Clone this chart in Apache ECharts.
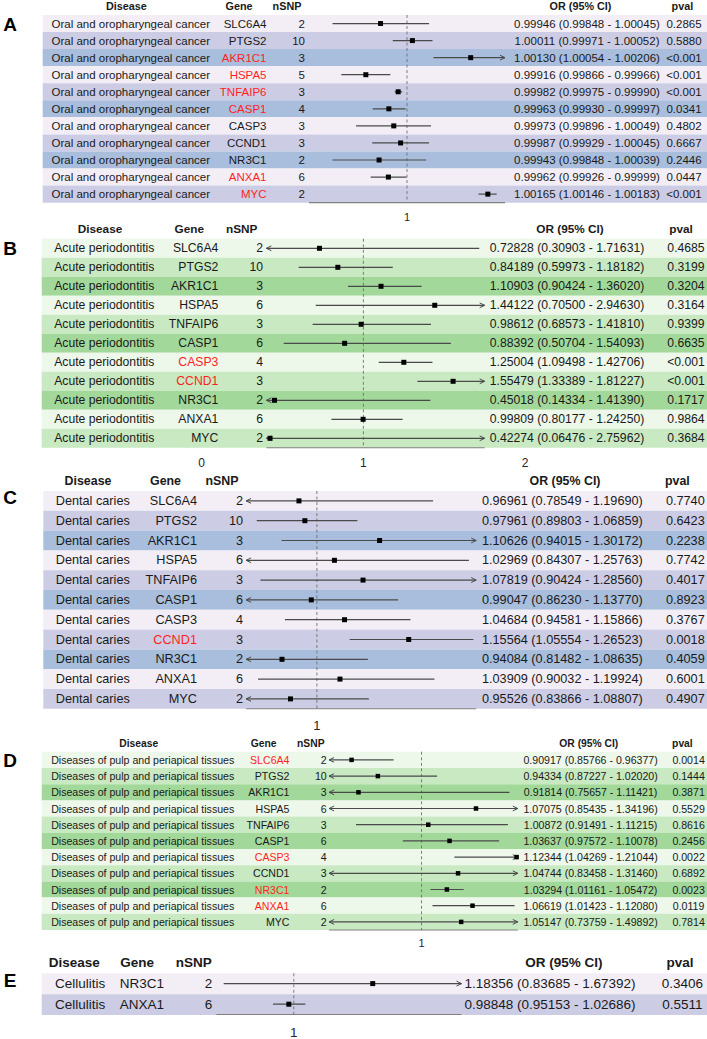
<!DOCTYPE html>
<html>
<head>
<meta charset="utf-8">
<script src="https://cdn.jsdelivr.net/npm/echarts@6/dist/echarts.min.js"></script>
<style>
html, body { margin: 0; padding: 0; background: #fff; }
#chart { width: 707px; height: 1039px; }
</style>
</head>
<body>
<div id="chart"></div>
<script>
// data
var genes = ['SLC6A4', 'PTGS2', 'AKR1C1', 'HSPA5', 'TNFAIP6', 'CASP1', 'CASP3', 'CCND1', 'NR3C1', 'ANXA1', 'MYC'];
var headers = ['Disease', 'Gene', 'nSNP', 'OR (95% CI)', 'pval'];

var diseaseA = 'Oral and oropharyngeal cancer';
var nsnpA = [2, 10, 3, 5, 3, 4, 3, 3, 2, 6, 2];
var orA = [0.99946, 1.00011, 1.00130, 0.99916, 0.99982, 0.99963, 0.99973, 0.99987, 0.99943, 0.99962, 1.00165];
var loA = [0.99848, 0.99971, 1.00054, 0.99866, 0.99975, 0.99930, 0.99896, 0.99929, 0.99848, 0.99926, 1.00146];
var hiA = [1.00045, 1.00052, 1.00206, 0.99966, 0.99990, 0.99997, 1.00049, 1.00045, 1.00039, 0.99999, 1.00183];
var pA = ['0.2865', '0.5880', '<0.001', '<0.001', '<0.001', '0.0341', '0.4802', '0.6667', '0.2446', '0.0447', '<0.001'];
var xlimA = [0.998, 1.002];
var ticksA = [1];

var diseaseB = 'Acute periodontitis';
var nsnpB = [2, 10, 3, 6, 3, 6, 4, 3, 2, 6, 2];
var orB = [0.72828, 0.84189, 1.10903, 1.44122, 0.98612, 0.88392, 1.25004, 1.55479, 0.45018, 0.99809, 0.42274];
var loB = [0.30903, 0.59973, 0.90424, 0.70500, 0.68573, 0.50704, 1.09498, 1.33389, 0.14334, 0.80177, 0.06476];
var hiB = [1.71631, 1.18182, 1.36020, 2.94630, 1.41810, 1.54093, 1.42706, 1.81227, 1.41390, 1.24250, 2.75962];
var pB = ['0.4685', '0.3199', '0.3204', '0.3164', '0.9399', '0.6635', '<0.001', '<0.001', '0.1717', '0.9864', '0.3684'];
var xlimB = [0.4, 1.75];
var ticksB = [0, 1, 2];

var diseaseC = 'Dental caries';
var nsnpC = [2, 10, 3, 6, 3, 6, 4, 3, 2, 6, 2];
var orC = [0.96961, 0.97961, 1.10626, 1.02969, 1.07819, 0.99047, 1.04684, 1.15564, 0.94084, 1.03909, 0.95526];
var loC = [0.78549, 0.89803, 0.94015, 0.84307, 0.90424, 0.86230, 0.94581, 1.05554, 0.81482, 0.90032, 0.83866];
var hiC = [1.19690, 1.06859, 1.30172, 1.25763, 1.28560, 1.13770, 1.15866, 1.26523, 1.08635, 1.19924, 1.08807];
var pC = ['0.7740', '0.6423', '0.2238', '0.7742', '0.4017', '0.8923', '0.3767', '0.0018', '0.4059', '0.6001', '0.4907'];
var xlimC = [0.88, 1.27];
var ticksC = [1];

var diseaseD = 'Diseases of pulp and periapical tissues';
var nsnpD = [2, 10, 3, 6, 3, 6, 4, 3, 2, 6, 2];
var orD = [0.90917, 0.94334, 0.91814, 1.07075, 1.00872, 1.03637, 1.12344, 1.04744, 1.03294, 1.06619, 1.05147];
var loD = [0.85766, 0.87227, 0.75657, 0.85435, 0.91491, 0.97572, 1.04269, 0.83458, 1.01161, 1.01423, 0.73759];
var hiD = [0.96377, 1.02020, 1.11421, 1.34196, 1.11215, 1.10078, 1.21044, 1.31460, 1.05472, 1.12080, 1.49892];
var pD = ['0.0014', '0.1444', '0.3871', '0.5529', '0.8616', '0.2456', '0.0022', '0.6892', '0.0023', '0.0119', '0.7814'];
var xlimD = [0.88, 1.125];
var ticksD = [1];

var diseaseE = 'Cellulitis';
var genesE = ['NR3C1', 'ANXA1'];
var nsnpE = [2, 6];
var orE = [1.18356, 0.98848];
var loE = [0.83685, 0.95153];
var hiE = [1.67392, 1.02686];
var pE = ['0.3406', '0.5511'];
var xlimE = [0.82, 1.39];
var ticksE = [1];

var purples = ['#F3EEF6', '#CCCDE5', '#A8BEDC'];
var greens = ['#EDF7EA', '#C8E9C1', '#A2D99B'];

var FONT = '"Liberation Sans", Arial, Helvetica, sans-serif';
var RED = '#ff1f1f';
var INK = '#1a1a1a';

// layout: pixel positions measured on the reference
// cols: disease centre, gene right, nSNP right, OR centre, pval centre
// heads: header centres
var panels = [
    { letter: 'A', disease: diseaseA, genes: genes, nsnp: nsnpA, or: orA, lo: loA, hi: hiA, p: pA,
      xlim: xlimA, ticks: ticksA, colors: purples,
      top: 15, pitch: 17.06, headY: 6, letterY: 24, bandLeft: 42.7, font: 11.5, headFont: 10.8,
      cols: [130.8, 266.5, 305, 587, 684], heads: [126.3, 239, 287, 580.5, 682.4],
      axisPx: [309, 505], tickFont: 11, labelMargin: 9, box: 5 },
    { letter: 'B', disease: diseaseB, genes: genes, nsnp: nsnpB, or: orB, lo: loB, hi: hiB, p: pB,
      xlim: xlimB, ticks: ticksB, colors: greens,
      top: 238.8, pitch: 19, headY: 229, letterY: 248, bandLeft: 41.7, font: 12.2, headFont: 11.8,
      cols: [104.3, 218.3, 263, 567, 686], heads: [100, 189.3, 241.7, 570, 681],
      axisPx: [201.7, 525.1], tickFont: 12, labelMargin: 9.5, box: 5 },
    { letter: 'C', disease: diseaseC, genes: genes, nsnp: nsnpC, or: orC, lo: loC, hi: hiC, p: pC,
      xlim: xlimC, ticks: ticksC, colors: purples,
      top: 491, pitch: 19.8, headY: 481, letterY: 497, bandLeft: 43.3, font: 12.7, headFont: 12.4,
      cols: [92.8, 197, 243, 562.4, 685.3], heads: [88, 165.5, 222, 565, 677.4],
      axisPx: [246.1, 476.2], tickFont: 13, labelMargin: 10, box: 5 },
    { letter: 'D', disease: diseaseD, genes: genes, nsnp: nsnpD, or: orD, lo: loD, hi: hiD, p: pD,
      xlim: xlimD, ticks: ticksD, colors: greens,
      top: 751.8, pitch: 16.2, headY: 743, letterY: 760, bandLeft: 41.7, font: 10.6, headFont: 10.3,
      cols: [142.7, 289.5, 326.7, 590.6, 688.6], heads: [138.7, 263.7, 310.8, 588.8, 682.4],
      axisPx: [329.1, 517.8], tickFont: 11, labelMargin: 7.5, box: 4.5 },
    { letter: 'E', disease: diseaseE, genes: genesE, nsnp: nsnpE, or: orE, lo: loE, hi: hiE, p: pE,
      xlim: xlimE, ticks: ticksE, colors: purples,
      top: 973.3, pitch: 20.85, headY: 962, letterY: 980, bandLeft: 41.7, font: 13.5, headFont: 13.5,
      cols: [80.2, 164, 212.3, 550, 682.4], heads: [74.2, 137, 193.7, 563.8, 680],
      axisPx: [216.4, 461.5], tickFont: 13.5, labelMargin: 10.5, box: 5 }
];

function isSig(p) {
    return p.charAt(0) === '<' || parseFloat(p) < 0.05;
}

function fmtOR(o, l, h) {
    return o.toFixed(5) + ' (' + l.toFixed(5) + ' - ' + h.toFixed(5) + ')';
}

function tableRender(P) {
    var font = P.font + 'px ' + FONT;
    return function (params, api) {
        var i = api.value(0);
        var a = api.coord([P.bandLeft, i]);
        var b = api.coord([707, i + 1]);
        var yc = (a[1] + b[1]) / 2;
        function txt(x, s, align, color) {
            return {
                type: 'text',
                style: {
                    x: api.coord([x, i + 0.5])[0], y: yc, text: s, font: font,
                    fill: color || INK, align: align, verticalAlign: 'middle',
                    textAlign: align, textVerticalAlign: 'middle'
                }
            };
        }
        return {
            type: 'group',
            children: [
                { type: 'rect', shape: { x: a[0], y: a[1], width: b[0] - a[0], height: b[1] - a[1] },
                  style: { fill: P.colors[i % 3] } },
                txt(P.cols[0], P.disease, 'center'),
                txt(P.cols[1], P.genes[i], 'right', isSig(P.p[i]) ? RED : INK),
                txt(P.cols[2], String(P.nsnp[i]), 'right'),
                txt(P.cols[3], fmtOR(P.or[i], P.lo[i], P.hi[i]), 'center'),
                txt(P.cols[4], P.p[i], 'center')
            ]
        };
    };
}

function forestRender(P) {
    return function (params, api) {
        var est = api.value(0), lo = api.value(1), hi = api.value(2), r = api.value(3);
        var yc = api.coord([est, r + 0.5])[1];
        var pl = api.coord([Math.max(lo, P.xlim[0]), r + 0.5])[0];
        var ph = api.coord([Math.min(hi, P.xlim[1]), r + 0.5])[0];
        var pe = api.coord([est, r + 0.5])[0];
        var ls = { stroke: '#4a4a4a', lineWidth: 1.2 };
        var kids = [
            { type: 'line', shape: { x1: pl, y1: yc, x2: ph, y2: yc }, style: ls }
        ];
        if (lo < P.xlim[0]) {
            kids.push({ type: 'polyline', shape: { points: [[pl + 5, yc - 2.4], [pl, yc], [pl + 5, yc + 2.4]] },
                        style: { stroke: '#4a4a4a', lineWidth: 1, fill: null } });
        }
        if (hi > P.xlim[1]) {
            kids.push({ type: 'polyline', shape: { points: [[ph - 5, yc - 2.4], [ph, yc], [ph - 5, yc + 2.4]] },
                        style: { stroke: '#4a4a4a', lineWidth: 1, fill: null } });
        }
        kids.push({ type: 'rect', shape: { x: pe - P.box / 2, y: yc - P.box / 2, width: P.box, height: P.box },
                    style: { fill: '#000' } });
        return { type: 'group', children: kids };
    };
}

var grids = [], xAxes = [], yAxes = [], series = [], graphics = [];

panels.forEach(function (P) {
    var n = P.genes.length;
    var h = n * P.pitch;

    // table part: bands and text cells
    var tg = grids.length;
    grids.push({ left: 0, top: P.top, width: 707, height: h });
    xAxes.push({ gridIndex: tg, type: 'value', min: 0, max: 707, show: false });
    yAxes.push({ gridIndex: tg, type: 'value', min: 0, max: n, inverse: true, show: false });
    series.push({
        type: 'custom', xAxisIndex: tg, yAxisIndex: tg, z: 1, silent: true,
        data: P.genes.map(function (g, i) { return [i]; }),
        renderItem: tableRender(P)
    });

    // forest part
    var fg = grids.length;
    var axMin = Math.min(P.xlim[0], Math.min.apply(null, P.ticks));
    var axMax = Math.max(P.xlim[1], Math.max.apply(null, P.ticks));
    grids.push({ left: P.axisPx[0], top: P.top, width: P.axisPx[1] - P.axisPx[0], height: h });
    xAxes.push({
        gridIndex: fg, type: 'value', min: axMin, max: axMax,
        axisLine: { show: false },
        splitLine: { show: false },
        axisTick: { show: true, length: 6, customValues: P.ticks, lineStyle: { color: '#808080', width: 1 } },
        axisLabel: {
            customValues: P.ticks, showMinLabel: true, showMaxLabel: true,
            margin: P.labelMargin, color: '#262626', fontSize: P.tickFont, fontFamily: FONT,
            formatter: function (v) { return String(v); }
        }
    });
    yAxes.push({ gridIndex: fg, type: 'value', min: 0, max: n, inverse: true, show: false });

    series.push({
        type: 'line', xAxisIndex: fg, yAxisIndex: fg, z: 3, silent: true, clip: false,
        symbol: 'none', data: [[1, 0], [1, n]],
        lineStyle: { color: '#707070', width: 0.9, type: [3, 2.5] }
    });
    series.push({
        type: 'line', xAxisIndex: fg, yAxisIndex: fg, z: 3, silent: true, clip: false,
        symbol: 'none', data: [[P.xlim[0], n], [P.xlim[1], n]],
        lineStyle: { color: '#808080', width: 1.1 }
    });
    series.push({
        type: 'custom', xAxisIndex: fg, yAxisIndex: fg, z: 5, silent: true, clip: false,
        data: P.or.map(function (o, i) { return [o, P.lo[i], P.hi[i], i]; }),
        renderItem: forestRender(P)
    });

    // headers and panel letter
    headers.forEach(function (t, j) {
        graphics.push({
            type: 'text', x: P.heads[j], y: P.headY, silent: true,
            style: { text: t, font: 'bold ' + P.headFont + 'px ' + FONT, fill: INK,
                     align: 'center', verticalAlign: 'middle', textAlign: 'center', textVerticalAlign: 'middle' }
        });
    });
    graphics.push({
        type: 'text', x: 10, y: P.letterY, silent: true,
        style: { text: P.letter, font: 'bold 19px ' + FONT, fill: '#000',
                 align: 'center', verticalAlign: 'middle', textAlign: 'center', textVerticalAlign: 'middle' }
    });
});

var myChart = echarts.init(document.getElementById('chart'), null, { renderer: 'svg' });

var option = {
    animation: false,
    backgroundColor: '#fff',
    grid: grids,
    xAxis: xAxes,
    yAxis: yAxes,
    series: series,
    graphic: { elements: graphics }
};

myChart.setOption(option);
</script>
</body>
</html>
